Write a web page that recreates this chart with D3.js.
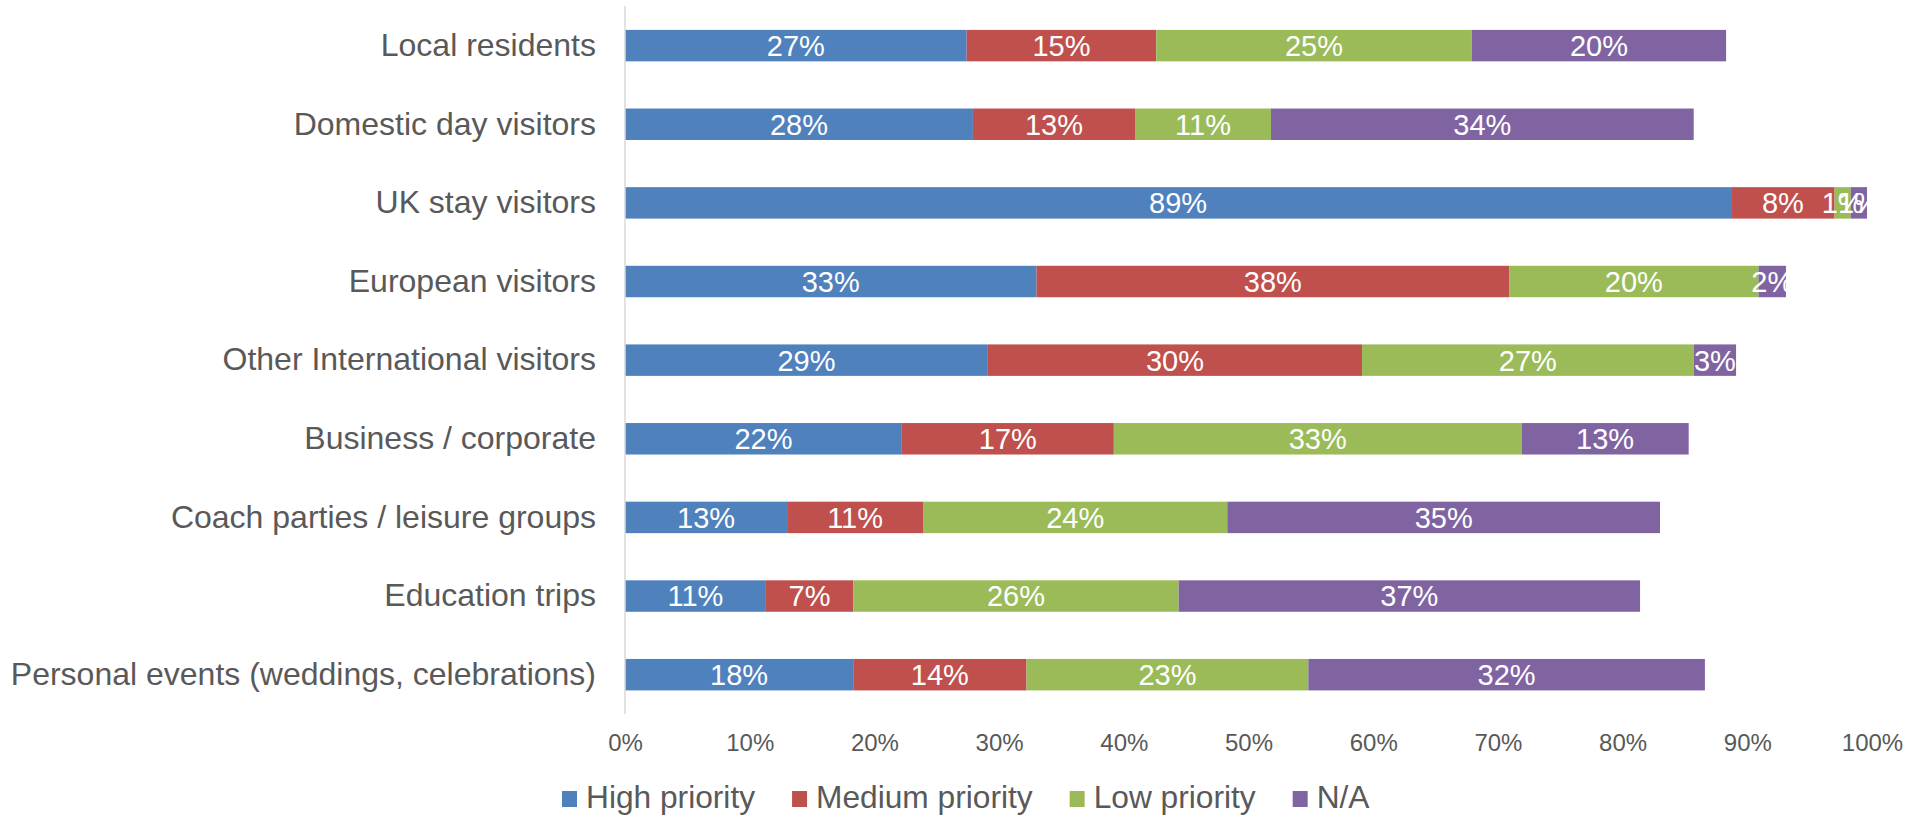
<!DOCTYPE html>
<html>
<head>
<meta charset="utf-8">
<script src="https://cdn.jsdelivr.net/npm/d3@7"></script>
<style>
  html, body { margin: 0; padding: 0; background: #ffffff; }
  svg { display: block; font-family: "Liberation Sans", Arial, sans-serif; }
</style>
</head>
<body>
<svg id="chart" width="1906" height="818"></svg>
<script>
// Visitor segments (top to bottom)
const categories = [
  "Local residents",
  "Domestic day visitors",
  "UK stay visitors",
  "European visitors",
  "Other International visitors",
  "Business / corporate",
  "Coach parties / leisure groups",
  "Education trips",
  "Personal events (weddings, celebrations)"
];

// Share of respondents per priority level (%)
const highPriority   = [27.4, 27.9, 88.7, 33.0, 29.1, 22.2, 13.0, 11.3, 18.3];
const mediumPriority = [15.2, 13.0,  8.3, 37.9, 30.0, 17.0, 10.9,  7.0, 13.9];
const lowPriority    = [25.3, 10.9,  1.3, 20.0, 26.6, 32.7, 24.4, 26.1, 22.6];
const notApplicable  = [20.4, 33.9,  1.3,  2.2,  3.4, 13.4, 34.7, 37.0, 31.8];

const seriesNames  = ["High priority", "Medium priority", "Low priority", "N/A"];
const seriesColors = ["#4f81bd", "#c0504d", "#9bbb59", "#8064a2"];
const xTicks = [0, 10, 20, 30, 40, 50, 60, 70, 80, 90, 100];

const seriesValues = [highPriority, mediumPriority, lowPriority, notApplicable];
const rows = categories.map((c, i) => {
  const r = { category: c };
  seriesNames.forEach((s, k) => { r[s] = seriesValues[k][i]; });
  return r;
});

const svg = d3.select("#chart");
const textColor = "#595959";

const x = d3.scaleLinear().domain([0, 100]).range([625, 1872]);
const y = d3.scaleBand().domain(categories).range([6.3, 714])
  .paddingInner(0.6).paddingOuter(0.3);

const stack = d3.stack().keys(seriesNames);
const layers = stack(rows);

// Stacked bars
const g = svg.append("g");
layers.forEach((layer, k) => {
  const lg = g.append("g").attr("fill", seriesColors[k]);
  lg.selectAll("rect")
    .data(layer)
    .join("rect")
    .attr("x", d => x(d[0]))
    .attr("y", d => y(d.data.category))
    .attr("width", d => x(d[1]) - x(d[0]))
    .attr("height", y.bandwidth());
});

// Value labels centred in each segment
layers.forEach((layer, k) => {
  g.append("g").selectAll("text")
    .data(layer)
    .join("text")
    .attr("x", d => (x(d[0]) + x(d[1])) / 2)
    .attr("y", d => y(d.data.category) + y.bandwidth() / 2)
    .attr("dy", "0.36em")
    .attr("text-anchor", "middle")
    .attr("fill", "#ffffff")
    .attr("font-size", 29)
    .text(d => Math.round(d[1] - d[0]) + "%");
});

// Category axis (left)
const yAxis = d3.axisLeft(y).tickSize(0).tickPadding(29);
const yg = svg.append("g").attr("transform", `translate(${x(0)},0)`).call(yAxis);
yg.select(".domain").remove();
yg.selectAll("text")
  .attr("fill", textColor)
  .attr("font-size", 32)
  .attr("font-family", "'Liberation Sans', Arial, sans-serif");

svg.append("line")
  .attr("x1", x(0)).attr("x2", x(0))
  .attr("y1", 6).attr("y2", 714)
  .attr("stroke", "#d9d9d9").attr("stroke-width", 1.5);

// Percentage axis (bottom)
const xAxis = d3.axisBottom(x).tickValues(xTicks).tickSize(0).tickPadding(0)
  .tickFormat(d => d + "%");
const xg = svg.append("g").attr("transform", "translate(0,734)").call(xAxis);
xg.select(".domain").remove();
xg.selectAll("text")
  .attr("fill", textColor)
  .attr("font-size", 24)
  .attr("dy", "0.71em")
  .attr("font-family", "'Liberation Sans', Arial, sans-serif");

// Legend
const legend = svg.append("g");
let lx = 562;
seriesNames.forEach((name, k) => {
  legend.append("rect")
    .attr("x", lx).attr("y", 791)
    .attr("width", 15).attr("height", 16)
    .attr("fill", seriesColors[k]);
  const t = legend.append("text")
    .attr("x", lx + 24).attr("y", 808)
    .attr("fill", textColor)
    .attr("font-size", 31.7)
    .text(name);
  lx += 24 + t.node().getComputedTextLength() + 37;
});
</script>
</body>
</html>
